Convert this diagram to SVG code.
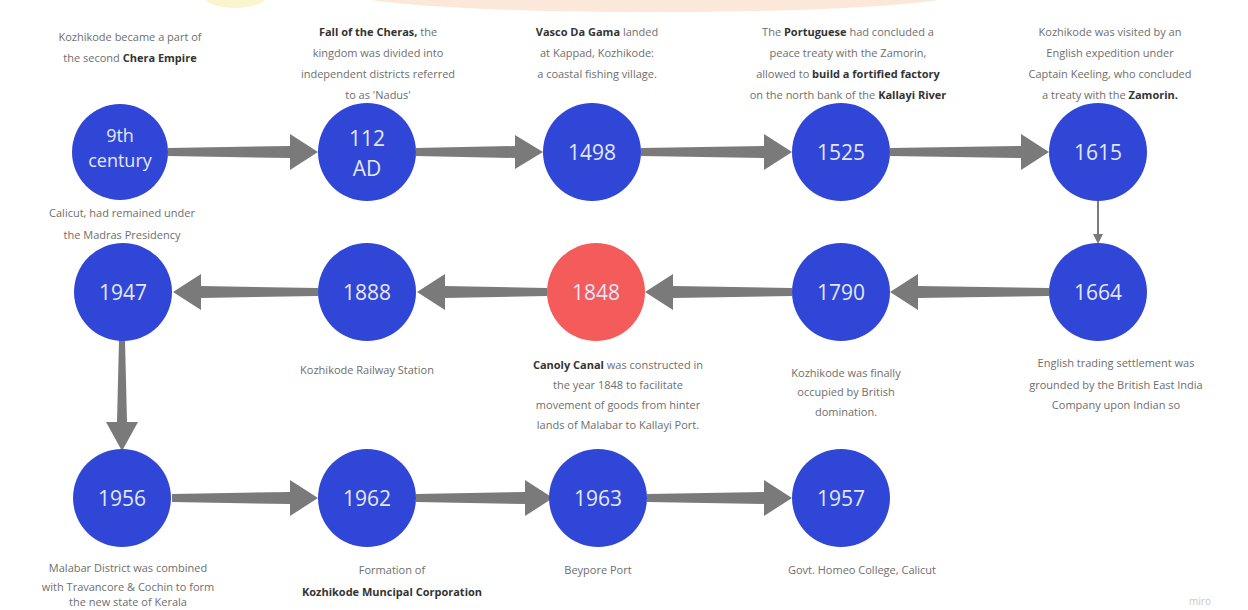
<svg xmlns="http://www.w3.org/2000/svg" width="1248" height="610" viewBox="0 0 1248 610">
<style>
.t{font-family:"Open Sans","Liberation Sans",sans-serif;font-size:11px;fill:#6e6e6e;text-anchor:middle}
.b{font-weight:bold;fill:#333}
.n{fill:#3046d6}
.r{fill:#f45b5b}
.y{font-family:"Open Sans","Liberation Sans",sans-serif;font-size:21px;fill:#e4e7f8;text-anchor:middle}
.a{fill:#7a7a7a}
</style>
<rect width="1248" height="610" fill="#ffffff"/>
<g id="decor">
<ellipse cx="655" cy="-6" rx="300" ry="18" fill="#fbe8d8"/>
<ellipse cx="235" cy="-4" rx="32" ry="12" fill="#fbf5cf"/>
</g>
<g id="connectors">
<polygon class="a" points="168,148 290,146 290,134 318,152 290,170 290,158 168,156"/>
<polygon class="a" points="416,148 515,146 515,135 543,152 515,169 515,158 416,156"/>
<polygon class="a" points="641,148 764,146 764,134 792,152 764,170 764,158 641,156"/>
<polygon class="a" points="890,148 1021,146 1021,134 1049,152 1021,170 1021,158 890,156"/>
<line x1="1098" y1="200" x2="1098" y2="236" stroke="#7a7a7a" stroke-width="2"/>
<polygon class="a" points="1093,234 1103,234 1098,244"/>
<polygon class="a" points="1049,288 918,286 918,274 890,292 918,310 918,298 1049,296"/>
<polygon class="a" points="792,288 673,286 673,274 645,292 673,310 673,298 792,296"/>
<polygon class="a" points="547,288 445,286 445,274 417,292 445,310 445,298 547,296"/>
<polygon class="a" points="318,288 201,286 201,274 173,292 201,310 201,298 318,296"/>
<polygon class="a" points="119,340 117,422 106,422 122,451 138,422 127,422 125,340"/>
<polygon class="a" points="172,494 290,492 290,480 318,498 290,516 290,504 172,502"/>
<polygon class="a" points="416,494 525,492 525,480 553,498 525,516 525,504 416,502"/>
<polygon class="a" points="647,494 764,492 764,480 792,498 764,516 764,504 647,502"/>
</g>
<g id="n9th">
<circle class="n" cx="120" cy="152" r="48"/>
<text class="y" style="font-size:18px"><tspan x="120" y="142">9th</tspan><tspan x="120" y="167">century</tspan></text>
<text class="t" x="130" y="41">Kozhikode became a part of</text>
<text class="t" x="130" y="62">the second <tspan class="b">Chera Empire</tspan></text>
</g>
<g id="n112">
<circle class="n" cx="367" cy="152" r="49"/>
<text class="y"><tspan x="367" y="146">112</tspan><tspan x="367" y="176">AD</tspan></text>
<text class="t" x="378" y="36"><tspan class="b">Fall of the Cheras,</tspan> the</text>
<text class="t" x="378" y="57">kingdom was divided into</text>
<text class="t" x="378" y="78">independent districts referred</text>
<text class="t" x="378" y="99">to as 'Nadus'</text>
</g>
<g id="n1498">
<circle class="n" cx="592" cy="152" r="49"/>
<text class="y" x="592" y="160">1498</text>
<text class="t" x="597" y="36"><tspan class="b">Vasco Da Gama</tspan> landed</text>
<text class="t" x="597" y="57">at Kappad, Kozhikode:</text>
<text class="t" x="597" y="78">a coastal fishing village.</text>
</g>
<g id="n1525">
<circle class="n" cx="841" cy="152" r="49"/>
<text class="y" x="841" y="160">1525</text>
<text class="t" x="848" y="36">The <tspan class="b">Portuguese</tspan> had concluded a</text>
<text class="t" x="848" y="57">peace treaty with the Zamorin,</text>
<text class="t" x="848" y="78">allowed to <tspan class="b">build a fortified factory</tspan></text>
<text class="t" x="848" y="99">on the north bank of the <tspan class="b">Kallayi River</tspan></text>
</g>
<g id="n1615">
<circle class="n" cx="1098" cy="152" r="49"/>
<text class="y" x="1098" y="160">1615</text>
<text class="t" x="1110" y="36">Kozhikode was visited by an</text>
<text class="t" x="1110" y="57">English expedition under</text>
<text class="t" x="1110" y="78">Captain Keeling, who concluded</text>
<text class="t" x="1110" y="99">a treaty with the <tspan class="b">Zamorin.</tspan></text>
</g>
<g id="n1947">
<circle class="n" cx="123" cy="292" r="49"/>
<text class="y" x="123" y="300">1947</text>
<text class="t" x="122" y="217">Calicut, had remained under</text>
<text class="t" x="122" y="239">the Madras Presidency</text>
</g>
<g id="n1888">
<circle class="n" cx="367" cy="292" r="49"/>
<text class="y" x="367" y="300">1888</text>
<text class="t" x="367" y="374">Kozhikode Railway Station</text>
</g>
<g id="n1848">
<circle class="r" cx="596" cy="292" r="49"/>
<text class="y" x="596" y="300">1848</text>
<text class="t" x="618" y="369"><tspan class="b">Canoly Canal</tspan> was constructed in</text>
<text class="t" x="618" y="389">the year 1848 to facilitate</text>
<text class="t" x="618" y="409">movement of goods from hinter</text>
<text class="t" x="618" y="429">lands of Malabar to Kallayi Port.</text>
</g>
<g id="n1790">
<circle class="n" cx="841" cy="292" r="49"/>
<text class="y" x="841" y="300">1790</text>
<text class="t" x="846" y="377">Kozhikode was finally</text>
<text class="t" x="846" y="396">occupied by British</text>
<text class="t" x="846" y="416">domination.</text>
</g>
<g id="n1664">
<circle class="n" cx="1098" cy="292" r="49"/>
<text class="y" x="1098" y="300">1664</text>
<text class="t" x="1116" y="367">English trading settlement was</text>
<text class="t" x="1116" y="389">grounded by the British East India</text>
<text class="t" x="1116" y="409">Company upon Indian so</text>
</g>
<g id="n1956">
<circle class="n" cx="122" cy="498" r="49"/>
<text class="y" x="122" y="506">1956</text>
<text class="t" x="128" y="572">Malabar District was combined</text>
<text class="t" x="128" y="591">with Travancore &amp; Cochin to form</text>
<text class="t" x="128" y="606">the new state of Kerala</text>
</g>
<g id="n1962">
<circle class="n" cx="367" cy="498" r="49"/>
<text class="y" x="367" y="506">1962</text>
<text class="t" x="392" y="574">Formation of</text>
<text class="t" x="392" y="596"><tspan class="b">Kozhikode Muncipal Corporation</tspan></text>
</g>
<g id="n1963">
<circle class="n" cx="598" cy="498" r="49"/>
<text class="y" x="598" y="506">1963</text>
<text class="t" x="598" y="574">Beypore Port</text>
</g>
<g id="n1957">
<circle class="n" cx="841" cy="498" r="49"/>
<text class="y" x="841" y="506">1957</text>
<text class="t" x="862" y="574">Govt. Homeo College, Calicut</text>
</g>
<text x="1200" y="605" style="font-family:'Open Sans','Liberation Sans',sans-serif;font-size:10px;fill:#c8c8c8;text-anchor:middle">miro</text>
</svg>
